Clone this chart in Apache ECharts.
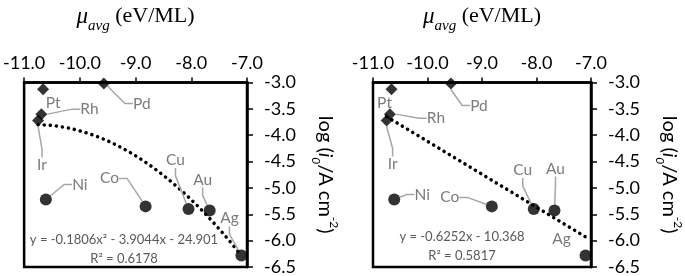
<!DOCTYPE html>
<html>
<head>
<meta charset="utf-8">
<script src="https://cdn.jsdelivr.net/npm/echarts@6/dist/echarts.min.js"></script>
<style>
  html, body { margin: 0; padding: 0; background: #fff; }
  #chart { width: 685px; height: 276px; }
</style>
</head>
<body>
<div id="chart"></div>
<script>
// data
const metals = ['Pt', 'Rh', 'Ir', 'Pd', 'Ni', 'Co', 'Cu', 'Au', 'Ag'];
const muAvg = [-10.66, -10.69, -10.75, -9.57, -10.61, -8.82, -8.05, -7.67, -7.10];
const logI0 = [-3.13, -3.60, -3.72, -3.02, -5.22, -5.35, -5.40, -5.43, -6.28];
const diamondMetals = ['Pt', 'Rh', 'Ir', 'Pd'];

// fits shown on the panels
const quadFit = [-0.1806, -3.9044, -24.901];
const linFit = [-0.6252, -10.368];
const quadEq = ['y = -0.1806x² - 3.9044x - 24.901', 'R² = 0.6178'];
const linEq = ['y = -0.6252x - 10.368', 'R² = 0.5817'];

// label offsets (px) per metal, one set per panel
const leftLabelPos = {
  Pt: [10, 14], Rh: [48, -5], Ir: [4, 45], Pd: [38, 20], Ni: [34, -15],
  Co: [-36, -28], Cu: [-13, -49], Au: [-7, -31], Ag: [-12, -37]
};
const rightLabelPos = {
  Pt: [-7, 14], Rh: [46, 4], Ir: [6, 44], Pd: [28, 22], Ni: [28, -5],
  Co: [-42, -9], Cu: [-11, -39], Au: [1, -42], Ag: [-24, -16]
};
const noLeaderLeft = ['Pt'];
const noLeaderRight = ['Pt', 'Ag'];

const FONT = 'Lato';

function fitLine(coefs) {
  const lo = Math.min(...muAvg), hi = Math.max(...muAvg);
  const pts = [];
  for (let i = 0; i <= 40; i++) {
    const x = lo + (hi - lo) * i / 40;
    let y = 0;
    coefs.forEach(c => { y = y * x + c; });
    pts.push([x, y]);
  }
  return pts;
}

function pointData(noLeader) {
  return metals.map((m, i) => {
    const isDiamond = diamondMetals.indexOf(m) >= 0;
    return {
      name: m,
      value: [muAvg[i], logI0[i]],
      symbol: isDiamond ? 'diamond' : 'circle',
      symbolSize: isDiamond ? 12 : 12,
      labelLine: { show: noLeader.indexOf(m) < 0 }
    };
  });
}

function pointSeries(idx, labelPos, noLeader) {
  return {
    type: 'scatter',
    xAxisIndex: idx,
    yAxisIndex: idx,
    z: 5,
    data: pointData(noLeader),
    itemStyle: { color: '#000' },
    label: {
      show: true,
      position: 'inside',
      formatter: '{b}',
      color: '#595959',
      fontFamily: FONT,
      fontSize: 15.5
    },
    labelLine: {
      show: true,
      length2: 8,
      lineStyle: { color: '#a6a6a6', width: 1.5 }
    },
    labelLayout: function (p) {
      const o = labelPos[metals[p.dataIndex]];
      return { dx: o[0], dy: o[1] };
    },
    emphasis: { disabled: true }
  };
}

function trendSeries(idx, coefs) {
  return {
    type: 'line',
    xAxisIndex: idx,
    yAxisIndex: idx,
    z: 3,
    data: fitLine(coefs),
    showSymbol: false,
    smooth: false,
    lineStyle: { color: '#000', width: 3.5, type: [0.1, 6], cap: 'round' },
    emphasis: { disabled: true }
  };
}

function xAxisCfg(idx) {
  return {
    gridIndex: idx,
    type: 'value',
    position: 'top',
    min: -11, max: -7, interval: 1,
    axisLine: { show: true, onZero: false, lineStyle: { color: '#000', width: 2.5 } },
    axisTick: { show: true, inside: false, length: 5, lineStyle: { color: '#000', width: 1.5 } },
    splitLine: { show: false },
    axisLabel: {
      color: '#000', fontFamily: FONT, fontSize: 18, margin: 10,
      formatter: v => v.toFixed(1)
    },
    name: '{mu|μ}{sub|avg}{n| (eV/ML)}',
    nameLocation: 'middle',
    nameGap: 49,
    nameTextStyle: {
      rich: {
        mu: { fontFamily: 'Liberation Serif', fontStyle: 'italic', fontSize: 23, color: '#000', lineHeight: 26 },
        sub: { fontFamily: 'Liberation Serif', fontStyle: 'italic', fontSize: 15, color: '#000', verticalAlign: 'bottom', lineHeight: 34 },
        n: { fontFamily: 'Liberation Serif', fontSize: 22, color: '#000', lineHeight: 26 }
      }
    }
  };
}

function yAxisCfg(idx) {
  return {
    gridIndex: idx,
    type: 'value',
    position: 'right',
    min: -6.5, max: -3.0, interval: 0.5,
    axisLine: { show: true, onZero: false, lineStyle: { color: '#000', width: 2.5 } },
    axisTick: { show: true, inside: false, length: 6, lineStyle: { color: '#000', width: 1.5 } },
    splitLine: { show: false },
    axisLabel: {
      color: '#000', fontFamily: FONT, fontSize: 18, margin: 17,
      formatter: v => v.toFixed(1)
    },
    name: '{a|log (}{i|i}{s|0}{a|/A cm}{p|-2}{a|)}',
    nameLocation: 'middle',
    nameRotate: -90,
    nameGap: 63,
    nameTextStyle: {
      rich: {
        a: { fontFamily: FONT, fontSize: 20, color: '#000', lineHeight: 26 },
        i: { fontFamily: FONT, fontStyle: 'italic', fontSize: 20, color: '#000', lineHeight: 26 },
        s: { fontFamily: FONT, fontStyle: 'italic', fontSize: 12, color: '#000', verticalAlign: 'bottom', lineHeight: 30 },
        p: { fontFamily: FONT, fontSize: 12, color: '#000', verticalAlign: 'top', lineHeight: 18 }
      }
    }
  };
}

function eqText(lines, cx, y1, y2) {
  const style = { fill: '#595959', font: '13px ' + FONT, textAlign: 'center', textVerticalAlign: 'middle' };
  return [
    { type: 'text', x: cx, y: y1, z: 10, style: Object.assign({ text: lines[0] }, style) },
    { type: 'text', x: cx, y: y2, z: 10, style: Object.assign({ text: lines[1] }, style) }
  ];
}

const chart = echarts.init(document.getElementById('chart'));
const option = {
  animation: false,
  backgroundColor: '#fff',
  grid: [
    { left: 21, top: 72, width: 226, height: 196, show: true, borderColor: '#000', borderWidth: 2.5, backgroundColor: 'transparent' },
    { left: 373, top: 72, width: 227, height: 196, show: true, borderColor: '#000', borderWidth: 2.5, backgroundColor: 'transparent' }
  ],
  xAxis: [xAxisCfg(0), xAxisCfg(1)],
  yAxis: [yAxisCfg(0), yAxisCfg(1)],
  series: [
    trendSeries(0, quadFit),
    trendSeries(1, linFit),
    pointSeries(0, leftLabelPos, noLeaderLeft),
    pointSeries(1, rightLabelPos, noLeaderRight)
  ],
  graphic: [].concat(
    eqText(quadEq, 124, 240, 259),
    eqText(linEq, 462, 237, 256)
  )
};
chart.setOption(option);
window.addEventListener('resize', chart.resize);
</script>
</body>
</html>
